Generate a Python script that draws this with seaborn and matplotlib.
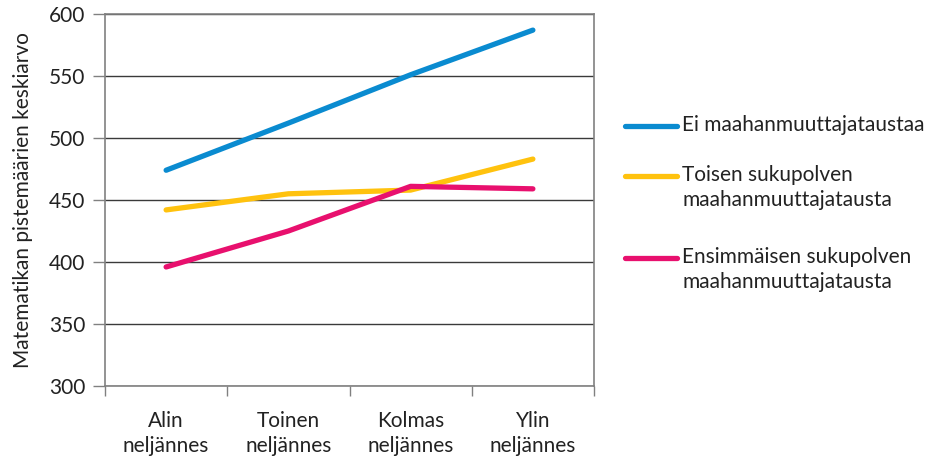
import matplotlib
matplotlib.use("Agg")
import matplotlib.pyplot as plt
import seaborn as sns
import pandas as pd
from matplotlib.lines import Line2D
from matplotlib.ticker import FixedLocator, NullFormatter

# Quartile categories (socio-economic background)
categories = ["Alin\nneljännes", "Toinen\nneljännes", "Kolmas\nneljännes", "Ylin\nneljännes"]

# Mean maths scores per group
ei_tausta = [474, 512, 551, 587]
toinen_sukupolvi = [442, 455, 458, 483]
ensimmainen_sukupolvi = [396, 425, 461, 459]

series_names = [
    "Ei maahanmuuttajataustaa",
    "Toisen sukupolven\nmaahanmuuttajatausta",
    "Ensimmäisen sukupolven\nmaahanmuuttajatausta",
]
series_values = [ei_tausta, toinen_sukupolvi, ensimmainen_sukupolvi]
colors = ["#0A8BD0", "#FFC20E", "#E8106E"]

y_ticks = [300, 350, 400, 450, 500, 550, 600]

rows = []
for name, vals in zip(series_names, series_values):
    for i, v in enumerate(vals):
        rows.append({"pos": i, "ryhmä": name, "pisteet": v})
df = pd.DataFrame(rows)

sns.set_theme(style="white")
plt.rcParams["font.family"] = ["Lato", "DejaVu Sans"]

FS = 15
TXT = "#222222"
W, H = 939, 457

fig = plt.figure(figsize=(W / 100, H / 100), dpi=100)
ax = fig.add_axes([105 / W, 1 - 386 / H, (594 - 105) / W, (386 - 14) / H])

sns.lineplot(
    data=df, x="pos", y="pisteet", hue="ryhmä", hue_order=series_names,
    palette=colors, linewidth=3.8, ax=ax, legend=False,
)
for line in ax.get_lines():
    line.set_solid_capstyle("round")

ax.set_xlim(-0.5, len(categories) - 0.5)
ax.set_ylim(300, 600)
ax.set_yticks(y_ticks)
ax.set_yticklabels([str(t) for t in y_ticks], fontsize=FS, color=TXT)
ax.set_xticks(range(len(categories)))
ax.set_xticklabels(categories, fontsize=FS, color=TXT, linespacing=1.3)
ax.xaxis.set_minor_locator(FixedLocator([i - 0.5 for i in range(len(categories) + 1)]))
ax.xaxis.set_minor_formatter(NullFormatter())
ax.tick_params(axis="x", which="major", length=0, pad=18)
ax.tick_params(axis="x", which="minor", length=7, width=1, color="#808080", direction="out", bottom=True)
ax.tick_params(axis="y", which="major", length=9, width=1, color="#808080", direction="out", left=True, pad=5)

ax.yaxis.grid(True, color="#3a3a3a", linewidth=1)
ax.xaxis.grid(False)
ax.set_axisbelow(True)
for side in ["left", "right", "top", "bottom"]:
    ax.spines[side].set_visible(True)
    ax.spines[side].set_color("#808080")
    ax.spines[side].set_linewidth(1.2)

ax.set_xlabel("")
ax.set_ylabel("Matematikan pistemäärien keskiarvo", fontsize=FS, color=TXT, labelpad=12)

# Legend on the right: handle aligned with the first text line of each entry
legend_rows = [126, 176, 258]
for name, color, yp in zip(series_names, colors, legend_rows):
    yf = 1 - yp / H
    fig.add_artist(Line2D([625 / W, 677 / W], [yf, yf], color=color, linewidth=3.8,
                          solid_capstyle="round", transform=fig.transFigure))
    fig.text(682 / W, 1 - (yp - 11) / H, name, fontsize=FS, color=TXT,
             ha="left", va="top", linespacing=1.3)

fig.savefig("out.png", dpi=100)
